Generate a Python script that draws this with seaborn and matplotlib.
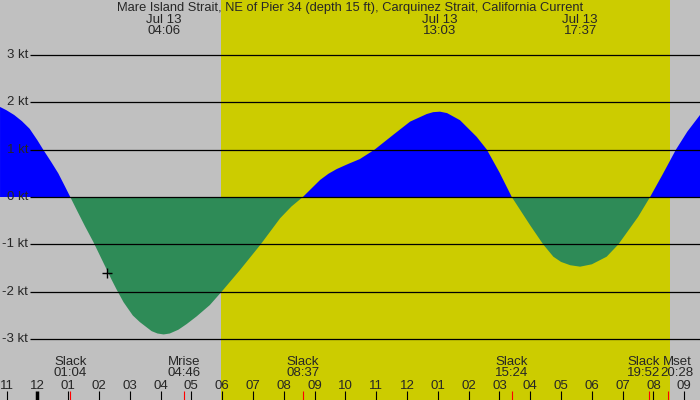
import numpy as np
import pandas as pd
import seaborn as sns
import matplotlib.pyplot as plt

# datos (horas desde medianoche del 13 de julio)
hora = [-1.21, -1.0, -0.75, -0.5, -0.25, 0.0, 0.19, 0.45, 0.68, 0.9, 1.07, 1.3, 1.55,
        1.82, 2.2, 2.4, 2.58, 2.8, 3.1, 3.33, 3.71, 3.9, 4.1, 4.3, 4.58, 4.85, 5.17,
        5.6, 5.98, 6.58, 7.25, 7.88, 8.25, 8.62, 8.9, 9.18, 9.45, 9.72, 10.1, 10.47,
        10.95, 11.55, 12.1, 12.64, 12.85, 13.07, 13.3, 13.72, 14.26, 14.59, 15.0, 15.4,
        15.67, 16.0, 16.42, 16.75, 17.0, 17.3, 17.62, 18.0, 18.48, 18.86, 19.5, 19.89,
        20.3, 20.73, 21.1, 21.51]
nudos = [1.90, 1.83, 1.73, 1.60, 1.44, 1.20, 1.00, 0.74, 0.50, 0.22, 0.0, -0.30, -0.62,
         -0.95, -1.46, -1.73, -1.96, -2.22, -2.50, -2.64, -2.83, -2.88, -2.90, -2.88,
         -2.80, -2.68, -2.52, -2.28, -2.00, -1.54, -1.00, -0.45, -0.20, 0.0, 0.18, 0.36,
         0.49, 0.59, 0.70, 0.80, 1.00, 1.31, 1.59, 1.75, 1.79, 1.80, 1.77, 1.62, 1.27,
         1.00, 0.52, 0.0, -0.27, -0.60, -1.00, -1.26, -1.37, -1.44, -1.47, -1.42, -1.26,
         -1.00, -0.42, 0.0, 0.48, 1.00, 1.38, 1.73]

titulo = "Mare Island Strait, NE of Pier 34 (depth 15 ft), Carquinez Strait, California Current"
picos_hora = [4.1, 13.05, 17.62]
picos_txt = ["04:06", "13:03", "17:37"]
eventos_hora = [1.07, 4.77, 8.62, 15.4, 19.87, 20.47]
eventos_nombre = ["Slack", "Mrise", "Slack", "Slack", "Slack", "Mset"]
eventos_txt = ["01:04", "04:46", "08:37", "15:24", "19:52", "20:28"]
niveles = [3, 2, 1, 0, -1, -2, -3]
horas_eje = list(range(-1, 22))
salida_sol, puesta_sol = 5.96, 20.53
ahora_hora, ahora_nudos = 2.27, -1.61

df = pd.DataFrame({"hora": hora, "nudos": nudos})

sns.set_style("white")
plt.rcParams['font.family'] = ['Liberation Sans', 'DejaVu Sans']

fig = plt.figure(figsize=(7, 4), dpi=100)
ax = fig.add_axes([0, 0, 1, 1])
ax.set_facecolor('#c0c0c0')
ax.set_xlim(-1.211, 21.51)
ax.set_ylim(-4.283, 4.156)
ax.axvspan(salida_sol, puesta_sol, color='#cccc00', lw=0, zorder=0)

# relleno de la corriente
ax.fill_between(df['hora'], df['nudos'], 0, where=df['nudos'] >= 0, interpolate=True,
                color='#0000ff', lw=0, zorder=2)
ax.fill_between(df['hora'], df['nudos'], 0, where=df['nudos'] <= 0, interpolate=True,
                color='#2e8b57', lw=0, zorder=2)

# lineas horizontales y etiquetas
ax.hlines(niveles, -0.23, 21.51, color='black', lw=0.9, zorder=3)
for n in niveles:
    ax.text(-0.29, n, f"{n} kt", ha='right', va='center', fontsize=9.5, zorder=4)

sns.scatterplot(x=[ahora_hora], y=[ahora_nudos], marker='+', color='black', s=60,
                linewidth=1, ax=ax, zorder=5)

tr = ax.get_xaxis_transform()
fig.text(0.5, 0.981, titulo, ha='center', va='center', fontsize=9.3)
for h, t in zip(picos_hora, picos_txt):
    ax.text(h, 0.951, "Jul 13", transform=tr, ha='center', va='center', fontsize=9.5)
    ax.text(h, 0.922, t, transform=tr, ha='center', va='center', fontsize=9.5)

# eventos abajo
desplaz = [0, 0, 0, 0, -0.2, 0.3]
for h, nom, t, d in zip(eventos_hora, eventos_nombre, eventos_txt, desplaz):
    ax.text(h + d, 0.096, nom, transform=tr, ha='center', va='center', fontsize=9.5)
    ax.text(h + d, 0.067, t, transform=tr, ha='center', va='center', fontsize=9.5)
    ax.vlines(h, 0, 0.0225, transform=tr, color='red', lw=0.8, zorder=4)

for h in horas_eje:
    et = f"{(h % 12) or 12:02d}"
    ax.text(h, 0.036, et, transform=tr, ha='center', va='center', fontsize=9.5)
    ax.vlines(h, 0, 0.0225, transform=tr, color='black', lw=2.5 if h == 0 else 0.8, zorder=4)

ax.set_xticks([])
ax.set_yticks([])
for s in ax.spines.values():
    s.set_visible(False)

fig.savefig('out.png', dpi=100)
